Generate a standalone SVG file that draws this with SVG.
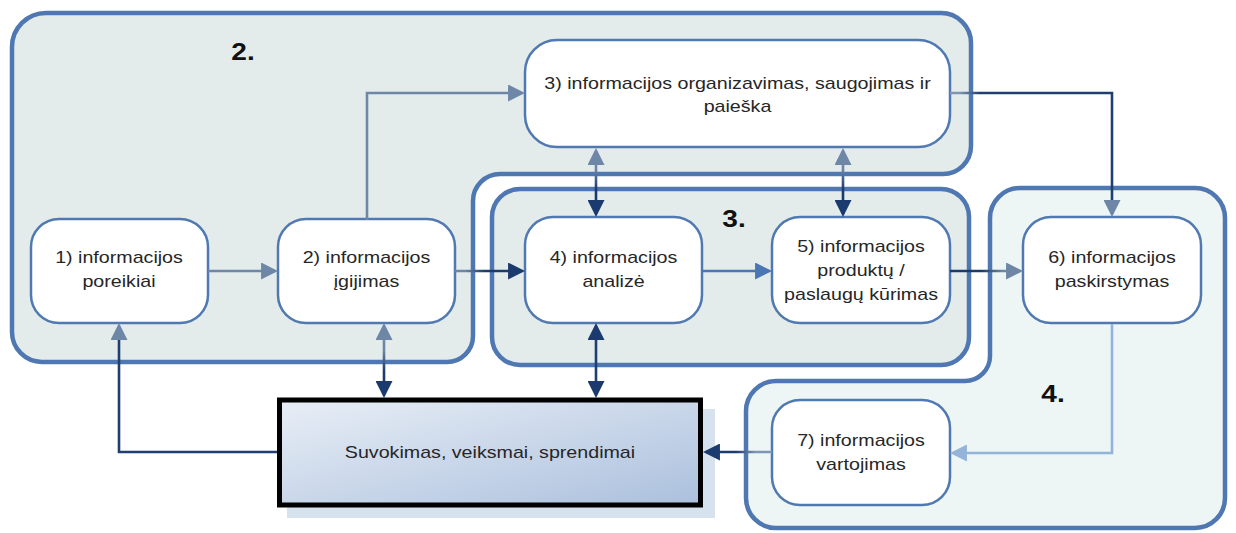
<svg xmlns="http://www.w3.org/2000/svg" width="1236" height="533" viewBox="0 0 1236 533">
<style>
.region{stroke:#4f78b2;stroke-width:4.5}
.node{fill:#ffffff;stroke:#5079b2;stroke-width:2.5}
.t{font-family:"Liberation Sans",Arial,sans-serif;font-size:16.8px;fill:#262626;text-anchor:middle}
.lbl{font-family:"Liberation Sans",Arial,sans-serif;font-size:24px;font-weight:bold;fill:#111111;text-anchor:middle}
.c{fill:none;stroke-width:2.6}
</style>
<defs>
<marker id="mGray" viewBox="0 0 10 10" refX="8.2" refY="5" markerWidth="17" markerHeight="17" markerUnits="userSpaceOnUse" orient="auto-start-reverse"><path d="M0,0 L10,5 L0,10 Z" fill="#6e87a6"/></marker>
<marker id="mNavy" viewBox="0 0 10 10" refX="8.2" refY="5" markerWidth="17" markerHeight="17" markerUnits="userSpaceOnUse" orient="auto-start-reverse"><path d="M0,0 L10,5 L0,10 Z" fill="#1b3a6d"/></marker>
<marker id="mBlue" viewBox="0 0 10 10" refX="8.2" refY="5" markerWidth="17" markerHeight="17" markerUnits="userSpaceOnUse" orient="auto-start-reverse"><path d="M0,0 L10,5 L0,10 Z" fill="#4a76b4"/></marker>
<marker id="mLight" viewBox="0 0 10 10" refX="8.2" refY="5" markerWidth="17" markerHeight="17" markerUnits="userSpaceOnUse" orient="auto-start-reverse"><path d="M0,0 L10,5 L0,10 Z" fill="#94b3d9"/></marker>
<linearGradient id="gMain" x1="0" y1="0" x2="1" y2="1"><stop offset="0" stop-color="#e8eef6"/><stop offset="1" stop-color="#abc0dd"/></linearGradient>
<linearGradient id="gV34" gradientUnits="userSpaceOnUse" x1="0" y1="150" x2="0" y2="215"><stop offset="0.3" stop-color="#6e87a6"/><stop offset="0.6" stop-color="#1b3a6d"/></linearGradient>
<linearGradient id="gV2m" gradientUnits="userSpaceOnUse" x1="0" y1="326" x2="0" y2="396"><stop offset="0.35" stop-color="#6e87a6"/><stop offset="0.65" stop-color="#1b3a6d"/></linearGradient>
<linearGradient id="gH24" gradientUnits="userSpaceOnUse" x1="455" y1="0" x2="522" y2="0"><stop offset="0.15" stop-color="#6e87a6"/><stop offset="0.45" stop-color="#1b3a6d"/></linearGradient>
<linearGradient id="gH56" gradientUnits="userSpaceOnUse" x1="950" y1="0" x2="1020" y2="0"><stop offset="0.45" stop-color="#1b3a6d"/><stop offset="0.75" stop-color="#6e87a6"/></linearGradient>
<linearGradient id="gH36" gradientUnits="userSpaceOnUse" x1="950" y1="0" x2="1000" y2="0"><stop offset="0.2" stop-color="#7f96b3"/><stop offset="0.6" stop-color="#1f3f70"/></linearGradient>
<linearGradient id="gH7m" gradientUnits="userSpaceOnUse" x1="772" y1="0" x2="706" y2="0"><stop offset="0.25" stop-color="#7f96b3"/><stop offset="0.55" stop-color="#1b3a6d"/></linearGradient>
</defs>

<g id="region-2">
<path class="region" fill="#e3ebeb" d="M46,13 H941 A30,30 0 0 1 971,43 V146 A28,28 0 0 1 943,174 H500 A27,27 0 0 0 473,201 V336 A26,26 0 0 1 447,362 H42 A30,30 0 0 1 12,332 V47 A34,34 0 0 1 46,13 Z"/>
<text class="lbl" transform="translate(243,0) scale(1.17,1)" x="0" y="60">2.</text>
</g>
<g id="region-3">
<rect class="region" fill="#e3ebeb" x="492" y="189" width="477" height="176" rx="28"/>
<text class="lbl" transform="translate(734,0) scale(1.17,1)" x="0" y="227">3.</text>
</g>
<g id="region-4">
<path class="region" fill="#edf5f5" d="M1020,188 H1195 A30,30 0 0 1 1225,218 V498 A30,30 0 0 1 1195,528 H776 A30,30 0 0 1 746,498 V411 A30,30 0 0 1 776,381 H965 A25,25 0 0 0 990,356 V218 A30,30 0 0 1 1020,188 Z"/>
<text class="lbl" transform="translate(1053,0) scale(1.17,1)" x="0" y="402">4.</text>
</g>

<g id="node-1">
<rect class="node" x="31" y="219" width="177" height="104" rx="28"/>
<text class="t" transform="translate(119,0) scale(1.17,1)"><tspan x="0" y="263.5">1) informacijos</tspan><tspan x="0" y="287.5">poreikiai</tspan></text>
</g>
<g id="node-2">
<rect class="node" x="278" y="219" width="177" height="104" rx="28"/>
<text class="t" transform="translate(366.5,0) scale(1.17,1)"><tspan x="0" y="263.5">2) informacijos</tspan><tspan x="0" y="287.5">įgijimas</tspan></text>
</g>
<g id="node-3">
<rect class="node" x="525" y="40" width="425" height="107" rx="32"/>
<text class="t" transform="translate(737.5,0) scale(1.17,1)"><tspan x="0" y="89">3) informacijos organizavimas, saugojimas ir</tspan><tspan x="0" y="112.5">paieška</tspan></text>
</g>
<g id="node-4">
<rect class="node" x="525" y="217" width="177" height="106" rx="28"/>
<text class="t" transform="translate(613.5,0) scale(1.17,1)"><tspan x="0" y="263.5">4) informacijos</tspan><tspan x="0" y="287.5">analizė</tspan></text>
</g>
<g id="node-5">
<rect class="node" x="772" y="217" width="178" height="106" rx="28"/>
<text class="t" transform="translate(861,0) scale(1.17,1)"><tspan x="0" y="252">5) informacijos</tspan><tspan x="0" y="276">produktų /</tspan><tspan x="0" y="300">paslaugų kūrimas</tspan></text>
</g>
<g id="node-6">
<rect class="node" x="1023" y="217" width="178" height="106" rx="28"/>
<text class="t" transform="translate(1112,0) scale(1.17,1)"><tspan x="0" y="263.5">6) informacijos</tspan><tspan x="0" y="287.5">paskirstymas</tspan></text>
</g>
<g id="node-7">
<rect class="node" x="772" y="400" width="178" height="105" rx="28"/>
<text class="t" transform="translate(861,0) scale(1.17,1)"><tspan x="0" y="446">7) informacijos</tspan><tspan x="0" y="470">vartojimas</tspan></text>
</g>
<g id="node-main">
<rect x="287" y="409" width="428" height="109" fill="#d6e2ee"/>
<rect x="279.5" y="400" width="421" height="105" fill="url(#gMain)" stroke="#000000" stroke-width="5"/>
<text class="t" transform="translate(490,0) scale(1.17,1)" x="0" y="458">Suvokimas, veiksmai, sprendimai</text>
</g>

<g id="connectors">
<path class="c" stroke="#6e87a6" d="M208,271 H275" marker-end="url(#mGray)"/>
<path class="c" stroke="#6e87a6" d="M367,220 V93 H522" marker-end="url(#mGray)"/>
<path class="c" stroke="url(#gH24)" stroke-width="3.2" d="M455,271 H522" marker-end="url(#mNavy)"/>
<path class="c" stroke="#4a76b4" d="M702,271 H769" marker-end="url(#mBlue)"/>
<path class="c" stroke="url(#gH56)" stroke-width="3" d="M950,271 H1020" marker-end="url(#mGray)"/>
<path class="c" stroke="url(#gH36)" d="M950,93 H1112 V214" marker-end="url(#mGray)"/>
<path class="c" stroke="url(#gV34)" stroke-width="3" d="M596,151 V214" marker-start="url(#mGray)" marker-end="url(#mNavy)"/>
<path class="c" stroke="url(#gV34)" stroke-width="3" d="M843,151 V214" marker-start="url(#mGray)" marker-end="url(#mNavy)"/>
<path class="c" stroke="url(#gV2m)" stroke-width="3" d="M384,326 V395" marker-start="url(#mGray)" marker-end="url(#mNavy)"/>
<path class="c" stroke="#1f3f70" stroke-width="3" d="M596,326 V395" marker-start="url(#mNavy)" marker-end="url(#mNavy)"/>
<path class="c" stroke="#1f3f70" d="M277,452 H119 V326" marker-end="url(#mGray)"/>
<path class="c" stroke="#94b3d9" d="M1112,324 V453 H953" marker-end="url(#mLight)"/>
<path class="c" stroke="url(#gH7m)" stroke-width="3" d="M772,452 H706" marker-end="url(#mNavy)"/>
</g>
</svg>
